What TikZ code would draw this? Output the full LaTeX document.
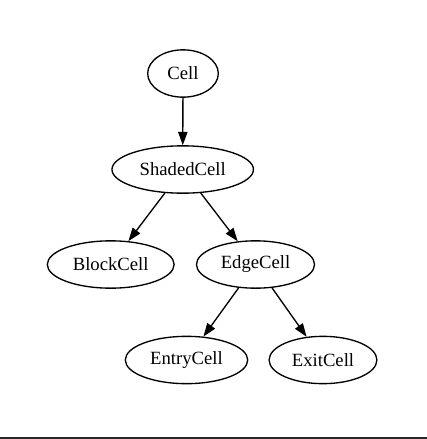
\documentclass[tikz,border=0pt]{standalone}
\usepackage{fontspec}
\setmainfont{Liberation Serif}
\usepackage{xcolor}
\usepackage{tikz}
\usetikzlibrary{arrows.meta,shapes.geometric}
\definecolor{inkmain}{RGB}{0, 0, 0}
\definecolor{rulegray}{RGB}{40, 40, 40}

\begin{document}
\begin{tikzpicture}[x=0.75pt,y=-0.75pt,
        cellnode/.style={draw=inkmain,ellipse,line width=1pt,inner xsep=5.25pt,inner ysep=0pt,
            minimum width=53pt,minimum height=35.5pt,font=\fontsize{14}{16}\selectfont},
        inherit/.style={-{Triangle[length=10pt,width=7pt]},inkmain,line width=1pt}]
        \useasboundingbox (0,0) rectangle (427,439);
        % class nodes
        \node[cellnode] (cell)     at (183,73.5)  {Cell};
        \node[cellnode] (shaded)   at (182.7,169.5) {ShadedCell};
        \node[cellnode] (block)    at (110.7,264.5) {BlockCell};
        \node[cellnode] (edgecell) at (255.5,264.5) {EdgeCell};
        \node[cellnode] (entry)    at (186.5,360) {EntryCell};
        \node[cellnode] (exitcell) at (323,360)   {ExitCell};
        % inheritance edges
        \draw[inherit] (cell) -- (shaded);
        \draw[inherit] (shaded) -- (block);
        \draw[inherit] (shaded) -- (edgecell);
        \draw[inherit] (edgecell) -- (entry);
        \draw[inherit] (edgecell) -- (exitcell);
        % bottom rule
        \coordinate (ruleL) at (0,437.8);
        \coordinate (ruleR) at (427,437.8);
        \draw[rulegray,line width=1.7pt] (ruleL) -- (ruleR);
    \end{tikzpicture}
\end{document}
